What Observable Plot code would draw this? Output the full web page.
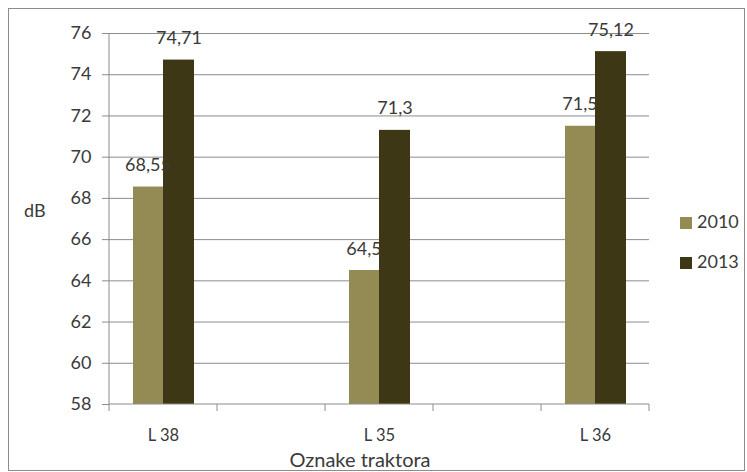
<!DOCTYPE html>
<html>
<head>
<meta charset="utf-8">
<script src="https://cdn.jsdelivr.net/npm/d3@7"></script>
<script src="https://cdn.jsdelivr.net/npm/@observablehq/plot@0.6"></script>
<style>
  body { margin: 0; background: #fff; font-family: Lato, "Open Sans", sans-serif; }
  #wrap { position: relative; width: 747px; height: 472px; overflow: hidden; }
  #border { position: absolute; left: 8px; top: 8px; width: 737px; height: 463px; border: 1.5px solid #8c8c8c; box-sizing: border-box; pointer-events: none; }
  .lab { position: absolute; color: #3a3a3a; font-size: 18px; line-height: 1; white-space: nowrap; }
  .sw { position: absolute; width: 12px; height: 12px; }
</style>
</head>
<body>
<div id="wrap">
  <div id="chart"></div>
  <div id="border"></div>
</div>
<script>
const categories = ["L 38", "L 35", "L 36"];
const years = ["2010", "2013"];
const values2010 = [68.55, 64.5, 71.5];
const values2013 = [74.71, 71.3, 75.12];
const yTicks = [58, 60, 62, 64, 66, 68, 70, 72, 74, 76];
const colors = ["#948a54", "#3e3716"];

// category slots with empty gaps between categories (as in the original)
const slots = ["L 38", "gap1", "L 35", "gap2", "L 36"];

const table = [];
categories.forEach((c, i) => {
  table.push({cat: c, year: years[0], value: values2010[i]});
  table.push({cat: c, year: years[1], value: values2013[i]});
});
const fmt = v => String(v).replace(".", ",");
const yMin = yTicks[0], yMax = yTicks[yTicks.length - 1];

// boundary tick marks & axis lines drawn from the scales
function boundaryTicks(index, scales, values, dimensions) {
  const g = d3.create("svg:g").attr("stroke", "#8c8c8c").attr("fill", "none");
  const x = scales.x, y = scales.y;
  const bw = x(slots[1]) - x(slots[0]);
  const edges = slots.map(s => x(s)).concat([x(slots[slots.length - 1]) + bw]);
  const y0 = y(yMin);
  edges.forEach(e => g.append("line").attr("x1", e).attr("x2", e).attr("y1", y0).attr("y2", y0 + 7));
  g.append("line").attr("x1", edges[0]).attr("x2", edges[0]).attr("y1", y(yMax)).attr("y2", y0);
  g.append("line").attr("x1", edges[0]).attr("x2", edges[edges.length - 1]).attr("y1", y0).attr("y2", y0);
  return g.node();
}

const chart = Plot.plot({
  width: 747,
  height: 472,
  marginLeft: 109,
  marginRight: 98,
  marginTop: 33,
  marginBottom: 68,
  style: {fontFamily: "Lato, 'Open Sans', sans-serif", fontSize: "16px", color: "#3a3a3a", background: "transparent"},
  x: {domain: slots, padding: 0, axis: null},
  y: {domain: [yMin, yMax], axis: null},
  color: {domain: years, range: colors},
  marks: [
    Plot.ruleY(yTicks.slice(1), {stroke: "#8c8c8c", strokeWidth: 1}),
    Plot.barY(table.filter(d => d.year === years[0]), {x: "cat", y1: () => yMin, y2: "value", fill: "year", insetLeft: 24, insetRight: 53}),
    Plot.barY(table.filter(d => d.year === years[1]), {x: "cat", y1: () => yMin, y2: "value", fill: "year", insetLeft: 54, insetRight: 23}),
    Plot.text(table.filter(d => d.year === years[0]), {x: "cat", y: "value", text: d => fmt(d.value), dx: -15.5, dy: -16, lineAnchor: "bottom", fontSize: 18, fill: "#3a3a3a"}),
    Plot.text(table.filter(d => d.year === years[1]), {x: "cat", y: "value", text: d => fmt(d.value), dx: 15.5, dy: -16, lineAnchor: "bottom", fontSize: 18, fill: "#3a3a3a"}),
    Plot.axisY({ticks: yTicks, tickSize: 7, tickPadding: 11, stroke: "#8c8c8c", fill: "#3a3a3a", fontSize: 18, label: null}),
    Plot.axisX({ticks: categories, tickSize: 0, tickPadding: 25, fill: "#3a3a3a", fontSize: 16.5, label: null}),
    boundaryTicks
  ]
});
document.getElementById("chart").appendChild(chart);

const wrap = document.getElementById("wrap");
function addLabel(text, left, top, size, extra) {
  const d = document.createElement("div");
  d.className = "lab";
  d.textContent = text;
  d.style.left = left + "px";
  d.style.top = top + "px";
  d.style.fontSize = size + "px";
  if (extra) Object.assign(d.style, extra);
  wrap.appendChild(d);
  return d;
}
addLabel("dB", 24, 201, 18);
addLabel("Oznake traktora", 360, 449, 20, {transform: "translateX(-50%)"});
years.forEach((yr, i) => {
  const top = 212 + i * 40;
  const sw = document.createElement("div");
  sw.className = "sw";
  sw.style.left = "680px";
  sw.style.top = (top + 5) + "px";
  sw.style.background = colors[i];
  wrap.appendChild(sw);
  addLabel(yr, 697, top, 18);
});
</script>
</body>
</html>
